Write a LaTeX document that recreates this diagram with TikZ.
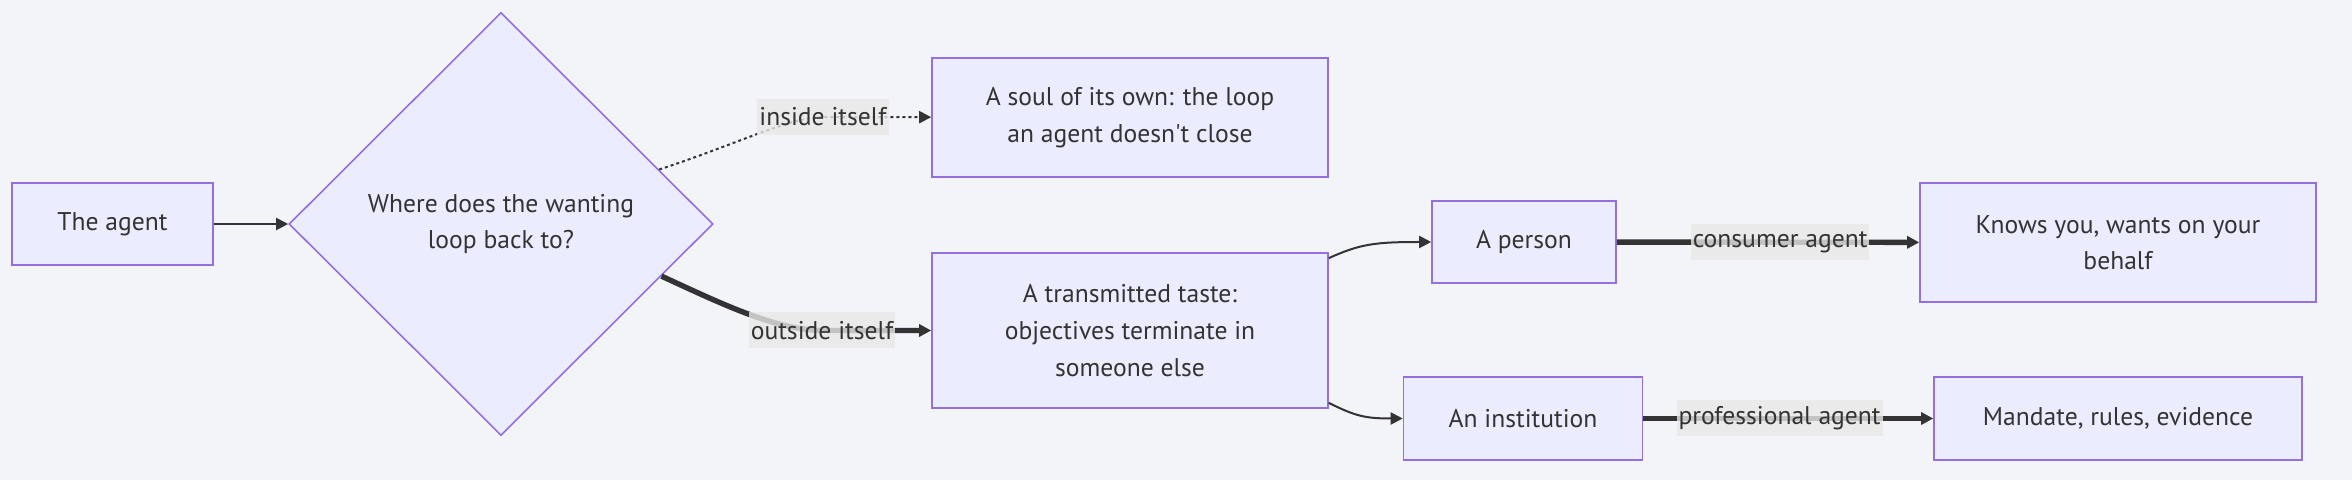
\documentclass[tikz,border=0pt]{standalone}
\usepackage{fontspec}
\setmainfont{PT Sans}
\usepackage{tikz}
\usetikzlibrary{shapes.geometric}
\usetikzlibrary{arrows.meta}
\usepackage{color}
\definecolor{cloud}{RGB}{243, 244, 248}
\definecolor{lavender}{RGB}{236, 236, 255}
\definecolor{amethyst}{RGB}{147, 112, 219}
\definecolor{charcoal}{RGB}{51, 51, 51}
\definecolor{silver}{RGB}{232, 232, 232}
\tikzset{
  box/.style      = {draw=amethyst, fill=lavender, line width=0.8pt, text=charcoal, align=center, inner sep=0pt},
  decision/.style = {box, diamond, aspect=1},
  edge/.style     = {draw=charcoal, line width=1pt, -{Triangle[length=6pt, width=6pt]}},
  thickedge/.style= {edge, line width=2.7pt},
  dotedge/.style  = {edge, dash pattern=on 1.5pt off 1.5pt},
  lbl/.style      = {fill=silver, fill opacity=0.8, text opacity=1, text=charcoal, inner xsep=1pt, inner ysep=0pt, minimum height=18pt},
}

\begin{document}
\begin{tikzpicture}[x=0.5pt, y=-0.5pt, font=\fontsize{12.8}{18.3}\selectfont]
            \fill[cloud]                                                    (0,0) rectangle (2352,480);
            \useasboundingbox                                               (0,0) rectangle (2352,480);
            \node[box,      minimum width=100.5pt, minimum height=41pt]    (agent)   at ( 112.5, 224.0) {The agent};
            \node[decision, minimum width=212pt,   minimum height=211.5pt] (where)   at ( 501.0, 224.0) {Where does the wanting\\loop back to?};
            \node[box,      minimum width=198pt,   minimum height=59.5pt]  (soul)    at (1130.0, 117.5) {A soul of its own: the loop\\an agent doesn\textquotesingle t close};
            \node[box,      minimum width=198pt,   minimum height=77.5pt]  (taste)   at (1130.0, 330.5) {A transmitted taste:\\objectives terminate in\\someone else};
            \node[box,      minimum width=92pt,    minimum height=41pt]    (person)  at (1524.0, 242.0) {A person};
            \node[box,      minimum width=198pt,   minimum height=59.5pt]  (knows)   at (2118.0, 242.5) {Knows you, wants on your\\behalf};
            \node[box,      minimum width=119.5pt, minimum height=41.5pt]  (inst)    at (1523.0, 418.5) {An institution};
            \node[box,      minimum width=184pt,   minimum height=41.5pt]  (mandate) at (2118.0, 418.5) {Mandate, rules, evidence};
            \draw[edge]      (agent) -- (where);
            \draw[dotedge]   (where.19)  .. controls ( 740,143) and ( 790,117)   .. ( 823,117)   node[lbl] {inside itself}  -- (soul);
            \draw[thickedge] (where.-18) .. controls ( 720,303) and ( 775,330)   .. ( 822,330.5) node[lbl] {outside itself} -- (taste);
            \draw[edge]      (taste.20.6)  .. controls (1360,244) and (1375,242)   .. (person.west);
            \draw[edge]      (taste.-20.6) .. controls (1355,416) and (1365,418.5) .. (inst.west);
            \draw[thickedge] (person) -- node[lbl, pos=0.54] {consumer agent}     (knows);
            \draw[thickedge] (inst)   -- node[lbl, pos=0.47] {professional agent} (mandate);
        \end{tikzpicture}
\end{document}
